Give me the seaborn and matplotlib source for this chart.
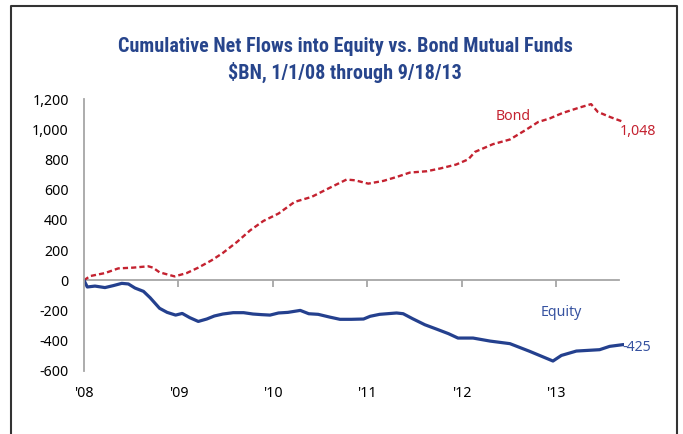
import matplotlib
matplotlib.use("Agg")
import matplotlib.pyplot as plt
import seaborn as sns
import pandas as pd
from matplotlib import font_manager
from matplotlib.font_manager import FontProperties
from matplotlib.lines import Line2D

# ---- data ----
equity_t = [2008.00, 2008.035, 2008.116, 2008.222, 2008.31, 2008.40, 2008.47, 2008.54, 2008.63,
            2008.70, 2008.80, 2008.88, 2008.97, 2009.04, 2009.12, 2009.21, 2009.30, 2009.38,
            2009.47, 2009.58, 2009.69, 2009.79, 2009.88, 2009.97, 2010.06, 2010.16, 2010.29,
            2010.38, 2010.48, 2010.60, 2010.71, 2010.83, 2010.96, 2011.03, 2011.13, 2011.31,
            2011.38, 2011.48, 2011.61, 2011.73, 2011.86, 2011.96, 2012.12, 2012.30, 2012.51,
            2012.72, 2012.966, 2013.055, 2013.214, 2013.46, 2013.566, 2013.714]
equity_v = [0, -44, -38, -48, -35, -20, -24, -51, -73,
            -115, -185, -212, -230, -219, -247, -272, -256, -236,
            -223, -214, -214, -223, -227, -230, -216, -212, -199,
            -221, -225, -243, -258, -258, -256, -238, -225, -216,
            -221, -254, -294, -322, -353, -382, -382, -402, -419,
            -470, -534, -497, -468, -459, -437, -425]

bond_t = [2008.00, 2008.063, 2008.222, 2008.363, 2008.52, 2008.68, 2008.73, 2008.80, 2008.96,
          2009.087, 2009.21, 2009.35, 2009.47, 2009.62, 2009.76, 2009.90, 2010.06, 2010.23,
          2010.41, 2010.585, 2010.78, 2010.87, 2011.01, 2011.17, 2011.31, 2011.45, 2011.63,
          2011.77, 2011.94, 2012.07, 2012.14, 2012.33, 2012.51, 2012.685, 2012.81, 2012.93,
          2013.07, 2013.25, 2013.37, 2013.44, 2013.57, 2013.714]
bond_v = [0, 28, 48, 79, 84, 93, 84, 53, 26,
          48, 84, 132, 181, 254, 331, 393, 442, 519,
          552, 607, 667, 662, 640, 658, 684, 713, 722,
          740, 766, 801, 850, 901, 932, 998, 1048, 1071,
          1108, 1144, 1166, 1115, 1081, 1048]

year_ticks = [2008, 2009, 2010, 2011, 2012, 2013]
year_labels = ["'08", "'09", "'10", "'11", "'12", "'13"]
y_ticks = [-600, -400, -200, 0, 200, 400, 600, 800, 1000, 1200]
y_labels = ["-600", "-400", "-200", "0", "200", "400", "600", "800", "1,000", "1,200"]

title1 = "Cumulative Net Flows into Equity vs. Bond Mutual Funds"
title2 = "$BN, 1/1/08 through 9/18/13"

# ---- style ----
sns.set_theme(style="white")
flist = font_manager.fontManager.ttflist
names = {f.name for f in flist}
body_font = "Noto Sans" if "Noto Sans" in names else "DejaVu Sans"
plt.rcParams["font.family"] = [body_font, "DejaVu Sans"]


def _w(f):
    w = f.weight
    if isinstance(w, str):
        w = {"bold": 700, "heavy": 800, "black": 900, "semibold": 600,
             "demibold": 600, "extra bold": 800}.get(w, 400)
    return w


def pick_title_font():
    narrow = ("condensed", "semi-condensed", "extra-condensed", "ultra-condensed")
    bold = [f for f in flist if _w(f) >= 700 and f.style == "normal"]
    cond = [f for f in bold if f.stretch in narrow or "Narrow" in f.name
            or "Condensed" in f.name]
    pref = ["Liberation Sans Narrow", "Roboto Condensed", "Open Sans Condensed",
            "Noto Sans", "DejaVu Sans"]
    for p in pref:
        for f in cond:
            if f.name.startswith(p) and _w(f) == 700:
                return FontProperties(fname=f.fname)
    if cond:
        return FontProperties(fname=cond[0].fname)
    for p in ["Roboto", "Liberation Sans", "Lato", "DejaVu Sans"]:
        for f in bold:
            if f.name == p and _w(f) == 700:
                return FontProperties(fname=f.fname)
    return FontProperties(family="DejaVu Sans", weight="bold")


title_fp = pick_title_font()

EQ_COL = "#24408e"
BOND_COL = "#c42230"
TITLE_COL = "#27458c"
AXIS_COL = "#a6a6a6"

df = pd.concat([
    pd.DataFrame({"t": equity_t, "v": equity_v, "series": "Equity"}),
    pd.DataFrame({"t": bond_t, "v": bond_v, "series": "Bond"}),
], ignore_index=True)

fig = plt.figure(figsize=(6.83, 4.34), dpi=100)
ax = fig.add_axes([84 / 683, 1 - 371 / 434, 539.6 / 683, 272 / 434])

sns.lineplot(data=df[df.series == "Bond"], x="t", y="v", ax=ax, color=BOND_COL,
             lw=1.7, estimator=None, sort=False, legend=False)
ax.lines[-1].set_dashes((2.2, 1.3))
sns.lineplot(data=df[df.series == "Equity"], x="t", y="v", ax=ax, color=EQ_COL,
             lw=2.3, estimator=None, sort=False, legend=False)

ax.set_xlim(2008, 2013.714)
ax.set_ylim(-600, 1200)
ax.set_xlabel("")
ax.set_ylabel("")

for s in ["top", "right"]:
    ax.spines[s].set_visible(False)
for s in ["left", "bottom"]:
    ax.spines[s].set_color(AXIS_COL)
    ax.spines[s].set_linewidth(1.3)
ax.spines["bottom"].set_position(("data", 0))
ax.spines["bottom"].set_bounds(2008, 2013.67)
ax.spines["bottom"].set_zorder(0.5)

ax.set_yticks(y_ticks)
ax.set_yticklabels(y_labels)
ax.set_xticks([t for t in year_ticks if t > 2008])
ax.tick_params(axis="x", which="both", bottom=True, direction="out", length=5, width=1.3,
               color=AXIS_COL, labelbottom=False)
ax.tick_params(axis="y", direction="out", length=5, width=1.3, color=AXIS_COL,
               labelsize=10.2, labelcolor="black", pad=6)

sec = ax.secondary_xaxis("bottom")
sec.set_xticks(year_ticks)
sec.set_xticklabels(year_labels)
sec.spines["bottom"].set_visible(False)
sec.tick_params(length=0, labelsize=10.2, labelcolor="black", pad=11)

# labels
ax.text(2012.54, 1083, "Bond", color=BOND_COL, fontsize=10.2, ha="center", va="center")
ax.text(2013.67, 987, "1,048", color=BOND_COL, fontsize=10.2, ha="left", va="center",
        clip_on=False)
ax.text(2013.05, -212, "Equity", color="#3652a0", fontsize=10.2, ha="center", va="center")
ax.text(2013.705, -444, "-425", color="#3652a0", fontsize=10.2, ha="left", va="center",
        clip_on=False)

# title, fitted to the reference width (first line ~465 px)
t1 = fig.text(345 / 683, 1 - 46 / 434, title1, ha="center", va="center", color=TITLE_COL,
              fontproperties=title_fp, fontsize=13.7)
t2 = fig.text(345 / 683, 1 - 72 / 434, title2, ha="center", va="center", color=TITLE_COL,
              fontproperties=title_fp, fontsize=13.7)
fig.canvas.draw()
w = t1.get_window_extent().width
size = 13.7 * 465.0 / w
size = min(size, 14.5)
t1.set_fontsize(size)
t2.set_fontsize(size)

# frame around the chart (left, top, right)
fx = [10.5 / 683, 10.5 / 683, 676.5 / 683, 676.5 / 683]
fy = [0, 1 - 5.5 / 434, 1 - 5.5 / 434, 0]
fig.add_artist(Line2D(fx, fy, transform=fig.transFigure, color="#333333", lw=1.5))

fig.savefig("out.png", dpi=100)
